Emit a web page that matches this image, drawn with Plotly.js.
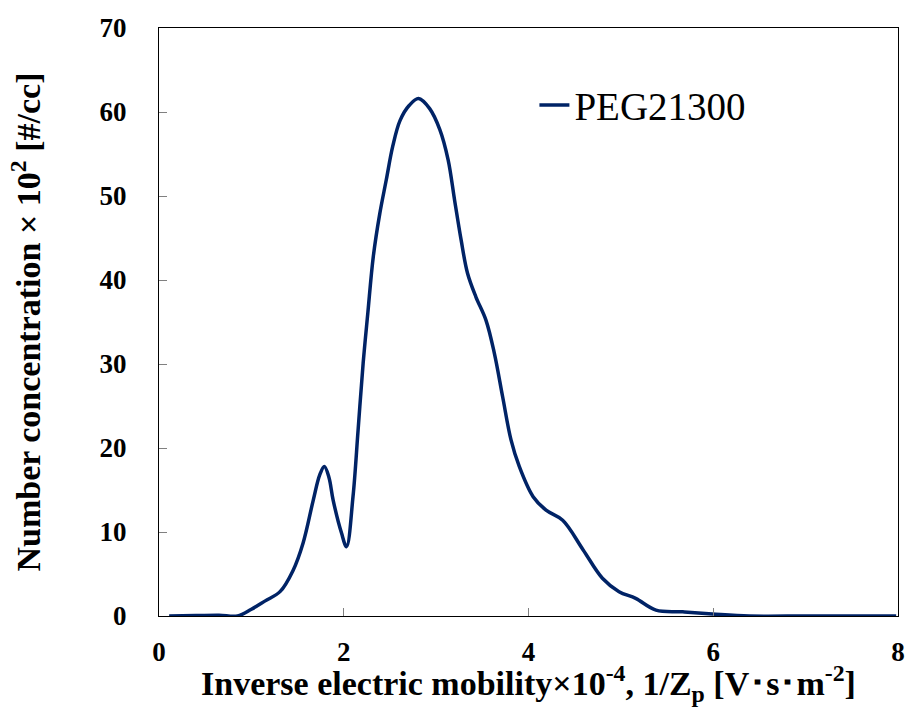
<!DOCTYPE html>
<html>
<head>
<meta charset="utf-8">
<script src="https://cdn.plot.ly/plotly-3.0.1.min.js"></script>
<style>html,body{margin:0;padding:0;background:#fff;}#chart{width:907px;height:707px;}</style>
</head>
<body>
<div id="chart"></div>
<script>
const seriesName = "PEG21300";
const xValues = [0.11, 0.4, 0.65, 0.85, 1.0, 1.15, 1.31, 1.45, 1.56, 1.67, 1.74, 1.79, 1.84, 1.885, 1.975, 2.03, 2.10, 2.155, 2.21, 2.26, 2.32, 2.39, 2.46, 2.53, 2.61, 2.71, 2.81, 2.93, 3.04, 3.13, 3.20, 3.27, 3.34, 3.43, 3.54, 3.63, 3.72, 3.81, 3.90, 4.05, 4.19, 4.37, 4.59, 4.80, 4.98, 5.16, 5.38, 5.67, 5.99, 6.39, 7.0, 7.5, 7.98];
const yValues = [0, 0.05, 0.1, 0, 0.8, 1.8, 2.9, 5.4, 8.7, 13.8, 16.8, 17.8, 16.5, 13.8, 9.9, 8.25, 14.2, 22.1, 30.1, 36.0, 42.8, 47.9, 51.9, 55.9, 59.0, 60.8, 61.6, 60.4, 57.9, 54.3, 49.5, 44.8, 40.8, 38.0, 35.2, 31.3, 26.1, 21.0, 17.8, 14.2, 12.6, 11.4, 7.9, 4.5, 2.9, 2.1, 0.7, 0.5, 0.25, 0, 0, 0, 0];
const xTicks = [0, 2, 4, 6, 8];
const yTicks = [0, 10, 20, 30, 40, 50, 60, 70];

const serif = "Liberation Serif, Times New Roman, serif";
const trace = {
  x: xValues, y: yValues, name: seriesName, type: "scatter", mode: "lines",
  line: {color: "#002366", width: 3.5, shape: "spline", smoothing: 1}
};
const layout = {
  width: 907, height: 707,
  margin: {l: 159, r: 9, t: 28, b: 91},
  paper_bgcolor: "#fff", plot_bgcolor: "#fff",
  showlegend: true,
  legend: {x: 0.508, y: 0.869, xanchor: "left", yanchor: "middle", bgcolor: "rgba(0,0,0,0)",
    font: {family: serif, size: 39, color: "#000"}, itemwidth: 30, tracegroupgap: 0},
  xaxis: {
    range: [0, 8], tickvals: xTicks, ticktext: xTicks.map(String),
    ticks: "inside", ticklen: 8, tickcolor: "#808080", tickwidth: 1,
    showline: true, linecolor: "#000", linewidth: 1, mirror: true,
    showgrid: false, zeroline: false, ticklabelstandoff: 12,
    tickfont: {family: serif, size: 27, color: "#000", weight: "bold"},
    title: {text: "Inverse electric mobility×10<sup>-4</sup>, 1/Z<sub>p</sub> [V･s･m<sup>-2</sup>]",
      font: {family: serif, size: 34, color: "#000", weight: "bold"}, standoff: 0}
  },
  yaxis: {
    range: [0, 70], tickvals: yTicks, ticktext: yTicks.map(String),
    ticks: "inside", ticklen: 8, tickcolor: "#808080", tickwidth: 1,
    showline: true, linecolor: "#000", linewidth: 1, mirror: true,
    showgrid: false, zeroline: false, ticklabelstandoff: 26,
    tickfont: {family: serif, size: 27, color: "#000", weight: "bold"},
    title: {text: "Number concentration × 10<sup>2</sup> [#/cc]",
      font: {family: serif, size: 34, color: "#000", weight: "bold"}, standoff: 48}
  }
};
Plotly.newPlot("chart", [trace], layout, {displayModeBar: false, staticPlot: true});
</script>
</body>
</html>
